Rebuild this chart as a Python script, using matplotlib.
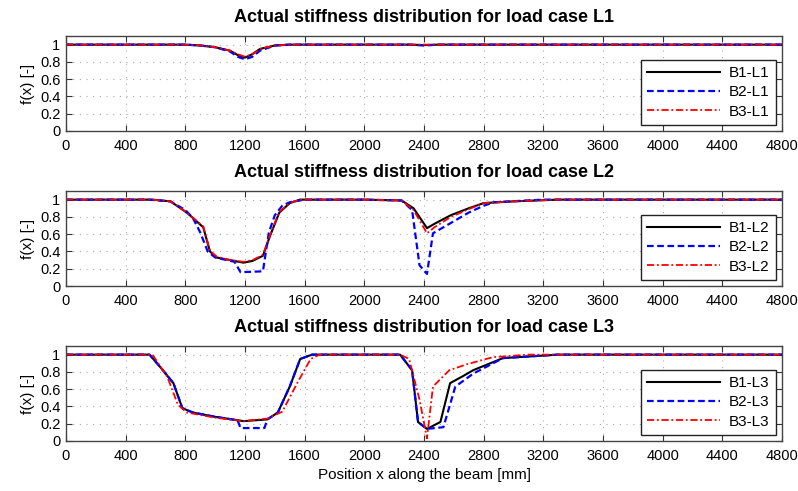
import matplotlib
matplotlib.use("Agg")
import matplotlib.pyplot as plt

plt.rcParams['font.family'] = ['Liberation Sans', 'DejaVu Sans']

# ---- load case L1 ----
l1_x = [0, 800, 900, 1000, 1100, 1150, 1200, 1250, 1300, 1400, 1500, 2300, 2400, 2500, 4800]
l1_b1 = [1, 1, 0.99, 0.97, 0.93, 0.88, 0.85, 0.89, 0.95, 0.99, 1, 1, 0.995, 1, 1]
l1_b2 = [1, 1, 0.99, 0.97, 0.92, 0.86, 0.83, 0.86, 0.93, 0.99, 1, 1, 0.99, 1, 1]
l1_b3 = [1, 1, 0.99, 0.97, 0.93, 0.89, 0.86, 0.89, 0.95, 0.99, 1, 1, 1, 1, 1]

# ---- load case L2 ----
l2_x_b1 = [0, 580, 700, 810, 920, 965, 1010, 1100, 1190, 1250, 1320, 1370, 1430, 1500, 1570,
           2000, 2250, 2330, 2420, 2470, 2580, 2700, 2800, 3000, 3300, 4800]
l2_b1 = [1, 1, 0.98, 0.85, 0.68, 0.40, 0.33, 0.30, 0.27, 0.29, 0.35, 0.59, 0.85, 0.96, 1,
         1, 0.99, 0.90, 0.67, 0.72, 0.82, 0.90, 0.96, 0.98, 1, 1]
l2_b3 = [1, 1, 0.98, 0.85, 0.69, 0.41, 0.34, 0.30, 0.28, 0.30, 0.36, 0.60, 0.86, 0.96, 1,
         1, 0.99, 0.88, 0.61, 0.68, 0.80, 0.89, 0.96, 0.98, 1, 1]
l2_x_b2 = [0, 550, 700, 800, 850, 900, 950, 1000, 1130, 1170, 1320, 1360, 1400, 1450, 1500,
           1600, 2000, 2250, 2320, 2370, 2420, 2460, 2580, 2700, 2800, 2870, 3200, 4800]
l2_b2 = [1, 1, 0.98, 0.88, 0.79, 0.62, 0.40, 0.33, 0.28, 0.16, 0.17, 0.62, 0.82, 0.93, 0.97,
         1, 1, 0.99, 0.88, 0.24, 0.14, 0.61, 0.73, 0.85, 0.93, 0.97, 1, 1]

# ---- load case L3 ----
l3_x_b1 = [0, 560, 630, 720, 780, 850, 1000, 1190, 1350, 1420, 1500, 1570, 1650,
           2240, 2320, 2360, 2420, 2510, 2575, 2660, 2730, 2930, 3300, 4800]
l3_b1 = [1, 1, 0.86, 0.67, 0.38, 0.33, 0.28, 0.23, 0.25, 0.33, 0.63, 0.95, 1,
         1, 0.82, 0.22, 0.14, 0.22, 0.67, 0.75, 0.82, 0.96, 1, 1]
l3_x_b2 = [0, 560, 630, 720, 780, 850, 1000, 1150, 1170, 1330, 1350, 1420, 1500, 1570, 1650,
           2240, 2320, 2360, 2420, 2530, 2610, 2730, 2930, 3300, 4800]
l3_b2 = [1, 1, 0.86, 0.67, 0.38, 0.33, 0.28, 0.24, 0.15, 0.15, 0.25, 0.33, 0.63, 0.95, 1,
         1, 0.82, 0.22, 0.14, 0.16, 0.63, 0.78, 0.96, 1, 1]
l3_x_b3 = [0, 580, 680, 750, 810, 1000, 1190, 1350, 1450, 1550, 1640, 1700,
           2240, 2300, 2370, 2420, 2460, 2570, 2690, 2860, 3100, 4800]
l3_b3 = [1, 1, 0.74, 0.42, 0.33, 0.27, 0.23, 0.26, 0.34, 0.67, 0.95, 1,
         1, 0.95, 0.48, 0.03, 0.63, 0.82, 0.89, 0.97, 1, 1]

xticks = list(range(0, 4801, 400))
yticks = [0, 0.2, 0.4, 0.6, 0.8, 1]
ytick_labels = ['0', '0.2', '0.4', '0.6', '0.8', '1']

panels = [
    ('L1', [(l1_x, l1_b1), (l1_x, l1_b2), (l1_x, l1_b3)]),
    ('L2', [(l2_x_b1, l2_b1), (l2_x_b2, l2_b2), (l2_x_b1, l2_b3)]),
    ('L3', [(l3_x_b1, l3_b1), (l3_x_b2, l3_b2), (l3_x_b3, l3_b3)]),
]
styles = [dict(color='black', linestyle='-', linewidth=1.5),
          dict(color='#0000ff', linestyle=(0, (3, 1.6)), linewidth=1.6),
          dict(color='#ff0000', linestyle=(0, (4, 1.5, 1, 1.5)), linewidth=1.3)]

fig = plt.figure(figsize=(7.98, 4.91), dpi=100)
left, width, height = 66 / 798, 716 / 798, 95 / 491
bottoms = [1 - 131 / 491, 1 - 286 / 491, 1 - 441 / 491]

for (case, series), bottom in zip(panels, bottoms):
    ax = fig.add_axes([left, bottom, width, height])
    for i, ((xs, ys), st) in enumerate(zip(series, styles)):
        ax.plot(xs, ys, label=f'B{i + 1}-{case}', **st)
    ax.set_xlim(0, 4800)
    ax.set_ylim(0, 1.1)
    ax.set_xticks(xticks)
    ax.set_yticks(yticks)
    ax.set_yticklabels(ytick_labels)
    ax.grid(True, linestyle=(0, (1, 5)), color='#aaaaaa', linewidth=0.8)
    ax.tick_params(direction='in', top=True, right=True, length=4, labelsize=10.5,
                   color='#333333')
    ax.tick_params(axis='x', pad=6)
    ax.tick_params(axis='y', pad=4)
    for sp in ax.spines.values():
        sp.set_color('#444444')
        sp.set_linewidth(1.0)
    ax.set_ylabel('f(x) [-]', fontsize=11, labelpad=4)
    ax.set_title(f'Actual stiffness distribution for load case {case}',
                 fontsize=13, fontweight='bold', pad=10)
    leg = ax.legend(loc='lower right', fontsize=11, handlelength=4.8, frameon=True,
                    fancybox=False, edgecolor='#222222', framealpha=1,
                    borderaxespad=0.4, labelspacing=0.35, handletextpad=0.6)
    leg.get_frame().set_linewidth(1.0)
    if case == 'L3':
        ax.set_xlabel('Position x along the beam [mm]', fontsize=11, labelpad=3)

fig.savefig('out.png', dpi=100)
